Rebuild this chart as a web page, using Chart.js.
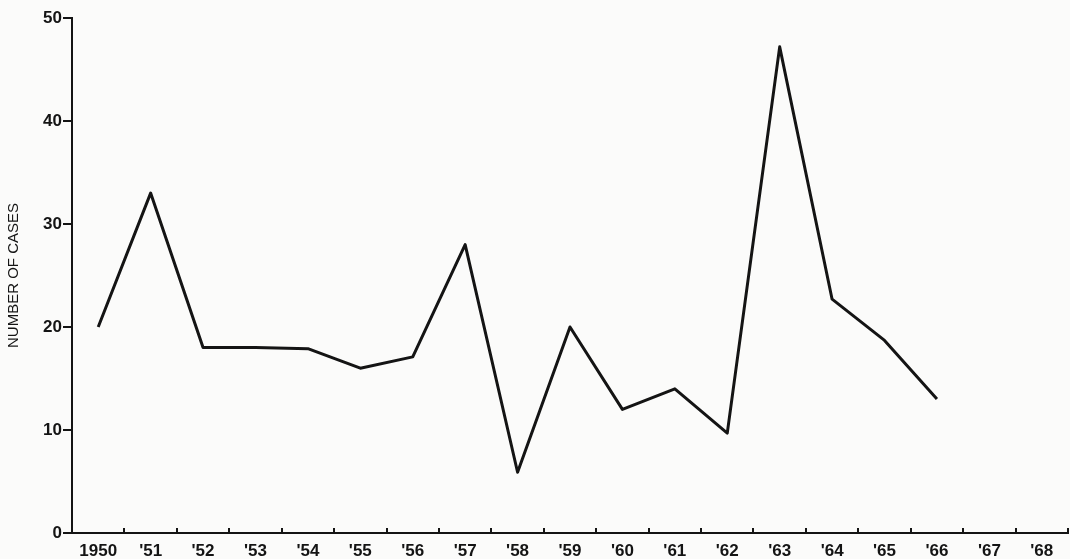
<!DOCTYPE html>
<html>
<head>
<meta charset="utf-8">
<script src="https://cdn.jsdelivr.net/npm/chart.js@4/dist/chart.umd.min.js"></script>
<style>
  html, body { margin: 0; padding: 0; background: #fbfbfa; }
  #wrap { width: 1070px; height: 559px; }
</style>
</head>
<body>
<div id="wrap"><canvas id="casesChart"></canvas></div>
<script>
// Data
const years = ['1950', "'51", "'52", "'53", "'54", "'55", "'56", "'57", "'58", "'59",
               "'60", "'61", "'62", "'63", "'64", "'65", "'66", "'67", "'68"];
const cases = [20, 33, 18, 18, 17.9, 16, 17.1, 28, 5.9, 20,
               12, 14, 9.7, 47.2, 22.7, 18.7, 13, null, null];
const yTicks = [0, 10, 20, 30, 40, 50];

const ink = '#141414';
const fontFamily = '"Liberation Sans", Arial, sans-serif';

// Paper-coloured background behind the chart
const paperBackground = {
    id: 'paperBackground',
    beforeDraw(chart) {
        const ctx = chart.ctx;
        ctx.save();
        ctx.fillStyle = '#fbfbfa';
        ctx.fillRect(0, 0, chart.width, chart.height);
        ctx.restore();
    }
};

new Chart(document.getElementById('casesChart'), {
    type: 'line',
    data: {
        labels: years,
        datasets: [{
            data: cases,
            borderColor: ink,
            borderWidth: 3,
            borderJoinStyle: 'round',
            pointRadius: 0,
            tension: 0,
            spanGaps: false
        }]
    },
    options: {
        responsive: true,
        maintainAspectRatio: false,
        animation: false,
        layout: { padding: { top: 18, right: 2, left: 0, bottom: 0 } },
        plugins: {
            legend: { display: false },
            tooltip: { enabled: false }
        },
        scales: {
            x: {
                offset: true,
                grid: {
                    offset: true,
                    drawOnChartArea: false,
                    drawTicks: true,
                    tickLength: -5,
                    color: ink,
                    lineWidth: 2
                },
                border: { color: ink, width: 2 },
                ticks: {
                    color: ink,
                    padding: 13,
                    maxRotation: 0,
                    autoSkip: false,
                    font: { family: fontFamily, size: 17, weight: 'bold' }
                },
                afterFit(scale) { scale.height = 26; }
            },
            y: {
                min: 0,
                max: 50,
                afterBuildTicks(scale) {
                    scale.ticks = yTicks.map(v => ({ value: v }));
                },
                grid: {
                    drawOnChartArea: false,
                    drawTicks: true,
                    tickLength: 9,
                    color: ink,
                    lineWidth: 2
                },
                border: { color: ink, width: 2 },
                ticks: {
                    color: ink,
                    padding: 1,
                    font: { family: fontFamily, size: 17, weight: 'bold' }
                },
                title: {
                    display: true,
                    text: 'NUMBER OF CASES',
                    color: ink,
                    padding: { top: 5, bottom: 0 },
                    font: { family: fontFamily, size: 15 }
                },
                afterFit(scale) { scale.width = 72; }
            }
        }
    },
    plugins: [paperBackground]
});
</script>
</body>
</html>
